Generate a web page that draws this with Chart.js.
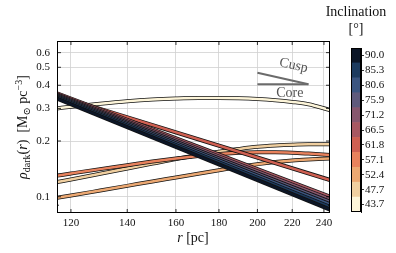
<!DOCTYPE html>
<html><head><meta charset="utf-8">
<script src="https://cdn.jsdelivr.net/npm/chart.js@4"></script>
<style>
html,body{margin:0;padding:0;background:#fff;}
#wrap{position:relative;width:396px;height:253px;background:#fff;}
#main{position:absolute;left:0;top:0;}
#cbar{position:absolute;left:340px;top:0;}
</style></head><body>
<div id="wrap"><canvas id="main" width="396" height="253"></canvas><canvas id="cbar" width="56" height="253"></canvas></div>
<script>
// ---- data ----
const rGrid = [115.5,120,130,140,150,160,170,180,190,200,210,220,230,244];
const rEnds = [115.5,244];
const rho437 = [0.300,0.306,0.318,0.328,0.335,0.339,0.341,0.341,0.340,0.337,0.332,0.325,0.316,0.294];
const rho477 = [0.120,0.124,0.133,0.142,0.151,0.160,0.168,0.175,0.181,0.186,0.189,0.191,0.192,0.192];
const rho524 = [0.0988,0.1015,0.108,0.1145,0.121,0.127,0.133,0.139,0.145,0.150,0.154,0.157,0.159,0.161];
const rho571 = [0.130,0.1335,0.141,0.148,0.155,0.161,0.166,0.170,0.173,0.174,0.174,0.173,0.171,0.168];
const rho618 = [0.352,0.1232];
const rho665 = [0.362,0.1002];
const rho712 = [0.357,0.0971];
const rho759 = [0.353,0.0940];
const rho806 = [0.348,0.0911];
const rho853 = [0.344,0.0882];
const rho900 = [0.339,0.0853];
const cuspR = [200,230], cuspRho = [0.467,0.405];
const coreR = [200,230], coreRho = [0.405,0.405];
const xTicks = [120,140,160,180,200,220,240];
const yTicks = [0.1,0.2,0.3,0.4,0.5,0.6];
const yMinor = [0.09];
const incLabels = ['43.7','47.7','52.4','57.1','61.8','66.5','71.2','75.9','80.6','85.3','90.0'];
const incColors = ['#fdf5d9','#f0cfa0','#eca872','#e8825d','#cf6052','#a85862','#87576e','#5f5a7c','#3b5580','#1d3b5f','#0c1627'];

const series = [
  [rGrid,rho437,0],[rGrid,rho477,1],[rGrid,rho524,2],[rGrid,rho571,3],
  [rEnds,rho618,4],[rEnds,rho665,5],[rEnds,rho712,6],[rEnds,rho759,7],
  [rEnds,rho806,8],[rEnds,rho853,9],[rEnds,rho900,10]
];
const xy = (rs,vs)=>rs.map((r,i)=>({x:r,y:vs[i]}));

const datasets = [];
let seq = 0;
const N = series.length*2 + 2;
series.forEach(([rs,vs,ci])=>{
  datasets.push({data:xy(rs,vs),borderColor:'#111',borderWidth:4,pointRadius:0,cubicInterpolationMode:'monotone',order:N-(seq++),borderCapStyle:'butt'});
  datasets.push({data:xy(rs,vs),borderColor:incColors[ci],borderWidth:2.5,pointRadius:0,cubicInterpolationMode:'monotone',order:N-(seq++),borderCapStyle:'butt'});
});
datasets.push({data:xy(cuspR,cuspRho),borderColor:'#6b6b6b',borderWidth:2,pointRadius:0,order:N-(seq++)});
datasets.push({data:xy(coreR,coreRho),borderColor:'#6b6b6b',borderWidth:2,pointRadius:0,order:N-(seq++)});

const SERIF = '"Liberation Serif","DejaVu Serif",serif';
function drawRuns(ctx, runs, cx, cy, rot){
  ctx.save(); ctx.translate(cx,cy); ctx.rotate(rot||0);
  let w=0; for(const r of runs){ctx.font=r.f; r.w=ctx.measureText(r.t).width+(r.sp||0); w+=r.w;}
  let xx=-w/2; ctx.textBaseline='alphabetic'; ctx.textAlign='left';
  for(const r of runs){ctx.font=r.f; ctx.fillStyle=r.c||'#111'; ctx.fillText(r.t, xx, r.dy||0); xx+=r.w;}
  ctx.restore();
}

const deco = {
  id:'deco',
  afterDatasetsDraw(chart){
    const {ctx, chartArea:a, scales:{x,y}} = chart;
    ctx.save();
    ctx.strokeStyle='#000'; ctx.lineWidth=0.8;
    ctx.beginPath();
    for(const v of xTicks){const px=x.getPixelForValue(v); ctx.moveTo(px,a.bottom); ctx.lineTo(px,a.bottom-4); ctx.moveTo(px,a.top); ctx.lineTo(px,a.top+4);}
    for(const v of yTicks){const py=y.getPixelForValue(v); ctx.moveTo(a.left,py); ctx.lineTo(a.left+4,py); ctx.moveTo(a.right,py); ctx.lineTo(a.right-4,py);}
    for(const v of yMinor){const py=y.getPixelForValue(v); ctx.moveTo(a.left,py); ctx.lineTo(a.left+2,py); ctx.moveTo(a.right,py); ctx.lineTo(a.right-2,py);}
    ctx.stroke();
    ctx.lineWidth=1; ctx.strokeStyle='#000';
    ctx.strokeRect(a.left+0.5,a.top+0.5,a.right-a.left-1,a.bottom-a.top-1);
    // annotation labels
    drawRuns(ctx,[{t:'Cusp',f:'14px '+SERIF,c:'#555'}], x.getPixelForValue(220.4), y.getPixelForValue(0.514)+4, 12*Math.PI/180);
    drawRuns(ctx,[{t:'Core',f:'14px '+SERIF,c:'#555'}], x.getPixelForValue(218.6), y.getPixelForValue(0.362)+4, 0);
    // axis titles
    drawRuns(ctx,[{t:'r',f:'italic 14px '+SERIF},{t:' [pc]',f:'14px '+SERIF}], 193, 242, 0);
    const F='14px '+SERIF, S='10px '+SERIF;
    drawRuns(ctx,[{t:'ρ',f:'italic '+F},{t:'dark',f:S,dy:3},{t:'(',f:F},{t:'r',f:'italic '+F},{t:')',f:F},
      {t:'  [M',f:F},{t:'⊙',f:S,dy:3},{t:' pc',f:F},{t:'−3',f:S,dy:-5},{t:']',f:F}], 27, 127, -Math.PI/2);
    drawRuns(ctx,[{t:'Inclination',f:'14px '+SERIF}], 356, 16, 0);
    drawRuns(ctx,[{t:'[°]',f:'14px '+SERIF}], 356, 33, 0);
    ctx.restore();
  }
};

new Chart(document.getElementById('main'),{
  type:'line',
  data:{datasets},
  options:{
    responsive:false, animation:false, devicePixelRatio:1,
    layout:{padding:{left:0,top:41,right:66,bottom:0}},
    plugins:{legend:{display:false},tooltip:{enabled:false}},
    elements:{line:{borderJoinStyle:'round'}},
    scales:{
      x:{type:'logarithmic',min:115.5,max:244,
        afterBuildTicks(s){s.ticks=xTicks.map(v=>({value:v}));},
        afterFit(s){s.height=40;},
        ticks:{autoSkip:false,maxRotation:0,padding:4,color:'#111',font:{family:SERIF,size:11},callback:v=>String(v)},
        grid:{color:'#d0d0d0',lineWidth:0.8,drawTicks:false},
        border:{display:false}},
      y:{type:'logarithmic',min:0.0817,max:0.6935,
        afterBuildTicks(s){s.ticks=yTicks.map(v=>({value:v}));},
        afterFit(s){s.width=57;},
        ticks:{autoSkip:false,padding:7,color:'#111',font:{family:SERIF,size:11},callback:v=>Number(v).toFixed(1)},
        grid:{color:'#d0d0d0',lineWidth:0.8,drawTicks:false},
        border:{display:false}}
    }
  },
  plugins:[deco]
});

const cbFrame = {id:'cbFrame',afterDatasetsDraw(chart){const {ctx,chartArea:a}=chart;ctx.save();ctx.strokeStyle='#000';ctx.lineWidth=1;ctx.strokeRect(a.left+0.5,a.top+0.5,a.right-a.left-1,a.bottom-a.top-1);ctx.restore();}};
new Chart(document.getElementById('cbar'),{
  type:'bar',
  data:{labels:[''],datasets:incColors.map(c=>({data:[1],backgroundColor:c,borderWidth:0,barPercentage:1,categoryPercentage:1}))},
  options:{
    responsive:false, animation:false, devicePixelRatio:1,
    layout:{padding:{left:11,top:48,bottom:41,right:0}},
    plugins:{legend:{display:false},tooltip:{enabled:false}},
    scales:{
      x:{display:false,stacked:true},
      y:{position:'right',stacked:true,min:0,max:11,
        afterBuildTicks(s){s.ticks=incLabels.map((l,i)=>({value:i+0.5}));},
        afterFit(s){s.width=35;},
        ticks:{autoSkip:false,padding:1,color:'#111',font:{family:SERIF,size:11},callback:(v,i)=>incLabels[i]},
        grid:{drawOnChartArea:false,drawTicks:true,tickLength:3,color:'#000',lineWidth:0.8},
        border:{display:true,color:'#000'}}
    }
  },
  plugins:[cbFrame]
});
</script>
</body></html>
